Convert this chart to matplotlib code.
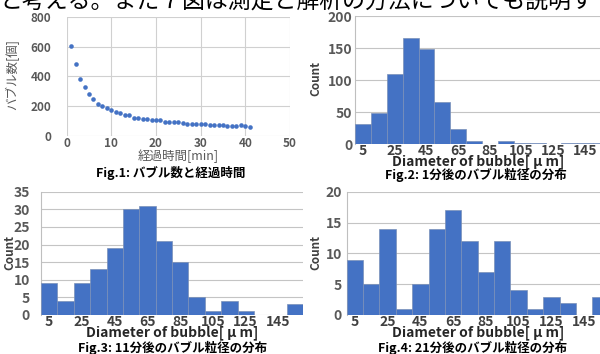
import matplotlib
matplotlib.use("Agg")
import matplotlib.pyplot as plt
import numpy as np

plt.rcParams['font.family'] = ['Noto Sans CJK JP', 'DejaVu Sans']

# ---- data ----
header_text = "と考える。また７図は測定と解析の方法についても説明す"

time_min = list(range(1, 42))
bubble_count = [605, 484, 384, 326, 281, 246, 214, 201, 190, 174,
                161, 152, 143, 139, 123, 123, 115, 112, 110, 105,
                107, 96, 96, 94, 92, 88, 80, 80, 78, 78,
                78, 77, 75, 76, 72, 70, 70, 69, 72, 68, 60]

bins = [5, 15, 25, 35, 45, 55, 65, 75, 85, 95, 105, 115, 125, 135, 145, 155]
bin_ticks = ["5", "25", "45", "65", "85", "105", "125", "145"]
count_1min = [32, 48, 110, 165, 149, 65, 24, 5, 0, 4, 1, 1, 0, 1, 1, 1]
count_11min = [9, 4, 9, 13, 19, 30, 31, 21, 15, 5, 1, 4, 1, 0, 0, 3]
count_21min = [9, 5, 14, 1, 5, 14, 17, 12, 7, 12, 4, 1, 3, 2, 0, 3]

W, H = 600, 354
fig = plt.figure(figsize=(W / 100, H / 100), dpi=100)
fig.patch.set_facecolor('white')

def rect(l, t, r, b):
    return [l / W, 1 - b / H, (r - l) / W, (b - t) / H]

def fx(x):
    return x / W

def fy(y):
    return 1 - y / H

TICK_C = '#595959'
GRID_C = '#D0D0D0'
BAR_C = '#4472C4'

# header (cut-off line of body text)
fig.text(fx(-1), fy(1.0), header_text, fontsize=16.5, va='center', ha='left', color='black')

# ---- Fig.1 scatter ----
ax1 = fig.add_axes(rect(66.7, 16.7, 290, 136))
ax1.plot(time_min, bubble_count, 'o', color=BAR_C, markersize=3.3, markeredgewidth=0, clip_on=False)
ax1.set_xlim(0, 50)
ax1.set_ylim(0, 800)
ax1.set_xticks(range(0, 51, 10))
ax1.set_yticks(range(0, 801, 200))
ax1.grid(True, color=GRID_C, linewidth=0.8)
ax1.set_axisbelow(True)
for s in ax1.spines.values():
    s.set_visible(False)
ax1.tick_params(length=0, labelsize=8.5, labelcolor=TICK_C)
ax1.tick_params(axis='x', pad=0.5)
ax1.tick_params(axis='y', pad=11)
for lab in ax1.get_xticklabels() + ax1.get_yticklabels():
    lab.set_fontweight('bold')
fig.text(fx(12), fy(75), "バブル数[個]", rotation=90, va='center', ha='center',
         fontsize=9, color=TICK_C)
fig.text(fx(178), fy(156), "経過時間[min]", va='center', ha='center',
         fontsize=9, color=TICK_C)
fig.text(fx(171), fy(172.5), "Fig.1: バブル数と経過時間", va='center', ha='center',
         fontsize=9, fontweight='bold', color='black')

# ---- histograms ----
def hist(box, counts, ymax, ystep, ylab_xy, xlab_xy, title_xy, title, ypad):
    ax = fig.add_axes(rect(*box))
    x = np.arange(len(bins))
    ax.bar(x, counts, width=1.0, color=BAR_C, edgecolor='#7A90B8', linewidth=0.5, zorder=3)
    ax.set_xlim(-0.5, len(bins) - 0.5)
    ax.set_ylim(0, ymax)
    ax.set_yticks(np.arange(0, ymax + 0.1, ystep))
    ax.set_xticks([bins.index(int(t)) for t in bin_ticks])
    ax.set_xticklabels(bin_ticks)
    ax.yaxis.grid(True, color='#C4C4C4', linewidth=0.8, zorder=0)
    ax.set_axisbelow(True)
    for k, s in ax.spines.items():
        s.set_visible(k == 'left')
    ax.spines['left'].set_color('#BFBFBF')
    ax.spines['left'].set_linewidth(0.8)
    ax.tick_params(length=0, labelsize=10)
    ax.tick_params(axis='x', pad=0, labelcolor='#404040')
    ax.tick_params(axis='y', pad=ypad, labelcolor=TICK_C)
    for lab in ax.get_xticklabels() + ax.get_yticklabels():
        lab.set_fontweight('bold')
    fig.text(fx(ylab_xy[0]), fy(ylab_xy[1]), "Count", rotation=90, va='center', ha='center',
             fontsize=8.5, fontweight='bold', color='#404040')
    fig.text(fx(xlab_xy[0]), fy(xlab_xy[1]), "Diameter of bubble[ μ m]", va='center', ha='center',
             fontsize=10, fontweight='bold', color='#262626')
    fig.text(fx(title_xy[0]), fy(title_xy[1]), title, va='center', ha='center',
             fontsize=9, fontweight='bold', color='black')
    return ax

hist((355, 16, 609, 144), count_1min, 200, 50, (316, 78), (478, 161.5), (476, 174.5),
     "Fig.2: 1分後のバブル粒径の分布", 2)
hist((41, 191.7, 303, 315), count_11min, 35, 5, (10, 253), (172, 333), (173, 347.5),
     "Fig.3: 11分後のバブル粒径の分布", 8)
hist((346.7, 191.7, 608.7, 315), count_21min, 20, 5, (316, 253), (478, 333), (473, 347.5),
     "Fig.4: 21分後のバブル粒径の分布", 3.5)

fig.savefig("out.png", dpi=100, facecolor='white')
